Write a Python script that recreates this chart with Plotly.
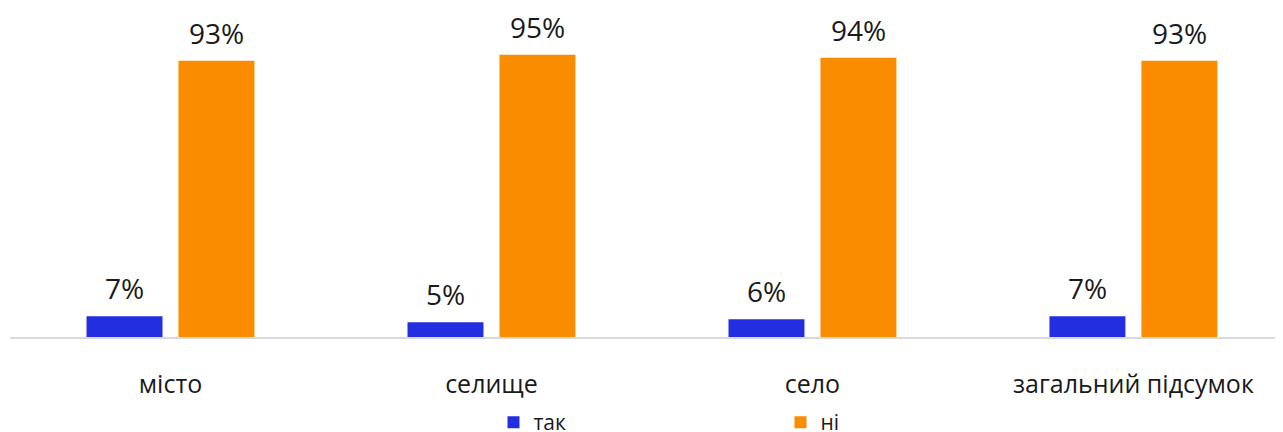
import plotly.graph_objects as go

categories = ["місто", "селище", "село", "загальний підсумок"]
tak = [7, 5, 6, 7]
ni = [93, 95, 94, 93]
series_names = ["так", "ні"]
colors = ["#222EE0", "#FA8C00"]
FONT = "'Open Sans', sans-serif"

fig = go.Figure()
for name, vals, col in zip(series_names, [tak, ni], colors):
    fig.add_trace(go.Bar(name=name, x=categories, y=vals, marker_color=col,
                         marker_line_width=0, hoverinfo="skip"))

for vals, shift in [(tak, -46), (ni, 46)]:
    for c, v in zip(categories, vals):
        fig.add_annotation(x=c, y=v, text=f"{v}%", showarrow=False, xshift=shift,
                           yanchor="bottom", yshift=7,
                           font=dict(family=FONT, size=28, color="#1a1a1a"))

fig.update_layout(
    width=1275, height=424,
    margin=dict(l=2, r=0, t=32, b=95, autoexpand=False),
    paper_bgcolor="white", plot_bgcolor="white",
    barmode="group", bargap=0.427, bargroupgap=0.174,
    showlegend=True,
    legend=dict(orientation="h", x=0.3798, xanchor="left", xref="paper",
                y=-0.219, yanchor="top", yref="paper",
                bgcolor="rgba(0,0,0,0)",
                entrywidth=242, entrywidthmode="pixels",
                font=dict(family=FONT, size=21, color="#1a1a1a"), traceorder="normal"),
    font=dict(family=FONT),
)
fig.update_xaxes(type="category", range=[-0.5, 3.466], showline=True, linecolor="#d9d9d9",
                 linewidth=2, ticks="", ticklabelstandoff=24, automargin=False,
                 tickfont=dict(family=FONT, size=25, color="#1a1a1a"), showgrid=False)
fig.update_yaxes(range=[0, 100], visible=False, showgrid=False, zeroline=False, automargin=False)

fig.write_html("out.html")
